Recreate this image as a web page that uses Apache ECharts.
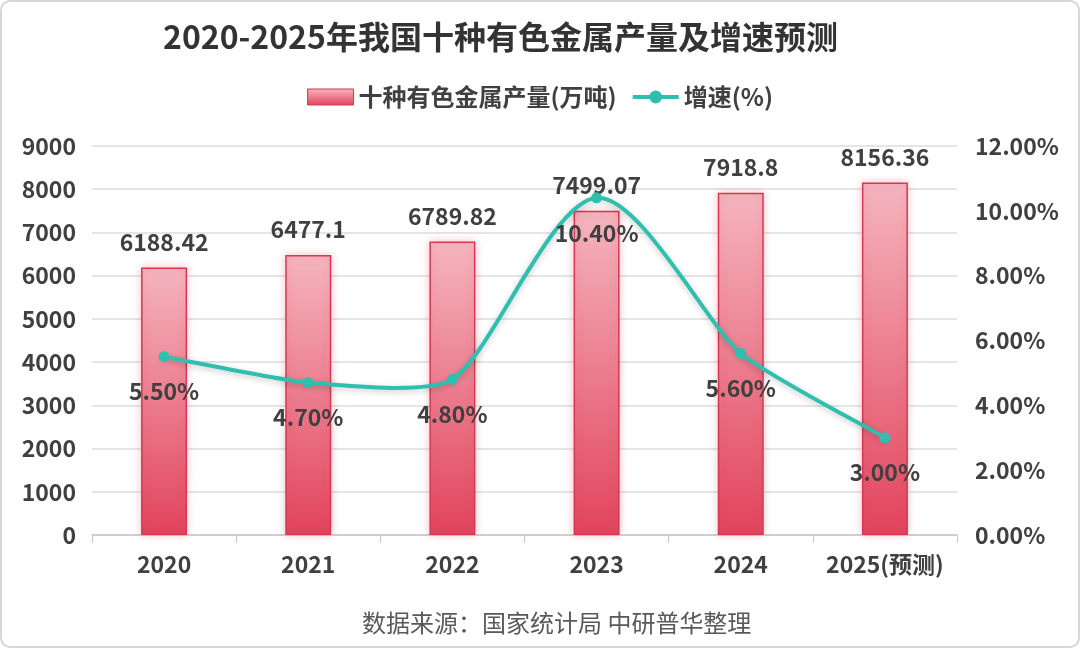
<!DOCTYPE html>
<html>
<head>
<meta charset="utf-8">
<script src="https://cdn.jsdelivr.net/npm/echarts@6/dist/echarts.min.js"></script>
<style>
html,body{margin:0;padding:0;background:#fff;}
#c{width:1080px;height:648px;box-sizing:border-box;border:2px solid #d6d6d6;border-radius:10px;overflow:hidden;}
</style>
</head>
<body>
<div id="c"></div>
<script>
const categories = ['2020','2021','2022','2023','2024','2025(预测)'];
const output = [6188.42, 6477.1, 6789.82, 7499.07, 7918.8, 8156.36];
const growth = [5.5, 4.7, 4.8, 10.4, 5.6, 3.0];
const leftTicks = {min:0, max:9000, interval:1000};
const rightTicks = {min:0, max:12, interval:2};

const FONT = '"Noto Sans CJK SC","Noto Sans",sans-serif';
const TXT = '#404040';
const LINE = '#2fbfae';

const chart = echarts.init(document.getElementById('c'), null, {width:1076, height:644});

const barGrad = () => new echarts.graphic.LinearGradient(0,0,0,1,[{offset:0,color:'#f5b5bf'},{offset:1,color:'#e2445c'}]);

// Excel-like smoothed segment between point i and i+1, positions from the axis scales
function renderSegment(params, api) {
  const i = params.dataIndex;
  const n = growth.length;
  if (i >= n - 1) return null;
  const P = k => api.coord([Math.max(0, Math.min(n - 1, k)), growth[Math.max(0, Math.min(n - 1, k))]]);
  const p0 = P(i - 1), p1 = P(i), p2 = P(i + 1), p3 = P(i + 2);
  const len = Math.hypot(p2[0] - p1[0], p2[1] - p1[1]);
  const s = 0.2;
  const t1 = [p2[0] - p0[0], p2[1] - p0[1]];
  const t1l = Math.hypot(t1[0], t1[1]) || 1;
  const t2 = [p3[0] - p1[0], p3[1] - p1[1]];
  const t2l = Math.hypot(t2[0], t2[1]) || 1;
  return {
    type: 'bezierCurve',
    shape: {
      x1: p1[0], y1: p1[1], x2: p2[0], y2: p2[1],
      cpx1: p1[0] + t1[0] / t1l * len * s, cpy1: p1[1] + t1[1] / t1l * len * s,
      cpx2: p2[0] - t2[0] / t2l * len * s, cpy2: p2[1] - t2[1] / t2l * len * s
    },
    style: {stroke: LINE, lineWidth: 4, fill: null, lineCap: 'round',
      shadowBlur: 6, shadowColor: 'rgba(0,0,0,0.22)', shadowOffsetY: 2}
  };
}

chart.setOption({
  animation:false,
  textStyle:{fontFamily:FONT},
  title:{
    text:'2020-2025年我国十种有色金属产量及增速预测',
    left:156, top:14,
    textStyle:{fontSize:32, fontWeight:'bold', color:'#333', fontFamily:FONT}
  },
  legend:{
    top:78, left:'center',
    itemGap:14,
    textStyle:{fontSize:24, fontWeight:'bold', color:TXT, fontFamily:FONT},
    data:[
      {name:'十种有色金属产量(万吨)', icon:'rect', itemStyle:{color:barGrad(), borderColor:'#d63850', borderWidth:1}},
      {name:'增速(%)', lineStyle:{color:LINE, width:4, opacity:1}, itemStyle:{color:LINE}}
    ],
    itemWidth:46, itemHeight:16
  },
  grid:{left:90, right:121, top:144, bottom:111, containLabel:false},
  xAxis:{
    type:'category',
    data:categories,
    axisLine:{lineStyle:{color:'#c8c8c8', width:1.5}},
    axisTick:{show:true, length:8, interval:0, lineStyle:{color:'#c8c8c8'}},
    axisLabel:{fontSize:23, fontWeight:'bold', color:TXT, margin:18, interval:0, fontFamily:FONT}
  },
  yAxis:[
    {
      type:'value', min:leftTicks.min, max:leftTicks.max, interval:leftTicks.interval,
      axisLine:{show:false}, axisTick:{show:false},
      axisLabel:{fontSize:23, fontWeight:'bold', color:TXT, margin:16, fontFamily:FONT,
        formatter:v=>String(v)},
      splitLine:{lineStyle:{color:'#dcdcdc', width:1.5}}
    },
    {
      type:'value', min:rightTicks.min, max:rightTicks.max, interval:rightTicks.interval,
      axisLine:{show:false}, axisTick:{show:false},
      axisLabel:{fontSize:23, fontWeight:'bold', color:TXT, margin:18, fontFamily:FONT,
        formatter:v=>v.toFixed(2)+'%'},
      splitLine:{show:false}
    }
  ],
  series:[
    {
      name:'十种有色金属产量(万吨)',
      type:'bar',
      data:output,
      barWidth:46,
      itemStyle:{
        color:barGrad(),
        borderColor:'#d63850', borderWidth:1.5,
        shadowBlur:8, shadowColor:'rgba(210,60,80,0.3)'
      },
      label:{
        show:true, position:'top', distance:14,
        fontSize:23, fontWeight:'bold', color:TXT, fontFamily:FONT
      },
      z:2
    },
    {
      name:'增速曲线',
      type:'custom',
      yAxisIndex:1,
      data:growth.map((v,i)=>[i,v]),
      encode:{x:0, y:1},
      renderItem:renderSegment,
      silent:true,
      z:3
    },
    {
      name:'增速(%)',
      type:'line',
      yAxisIndex:1,
      data:growth,
      symbol:'circle', symbolSize:11,
      lineStyle:{color:LINE, width:4, opacity:0},
      itemStyle:{color:LINE},
      label:{
        show:true, position:'bottom', distance:18,
        fontSize:23, fontWeight:'bold', color:TXT, fontFamily:FONT,
        formatter:p=>p.value.toFixed(2)+'%'
      },
      z:4
    }
  ],
  graphic:[
    {
      type:'text', left:360, top:609,
      style:{text:'数据来源：国家统计局 中研普华整理', fontSize:24, fill:'#595959', fontFamily:FONT}
    }
  ]
});
</script>
</body>
</html>
